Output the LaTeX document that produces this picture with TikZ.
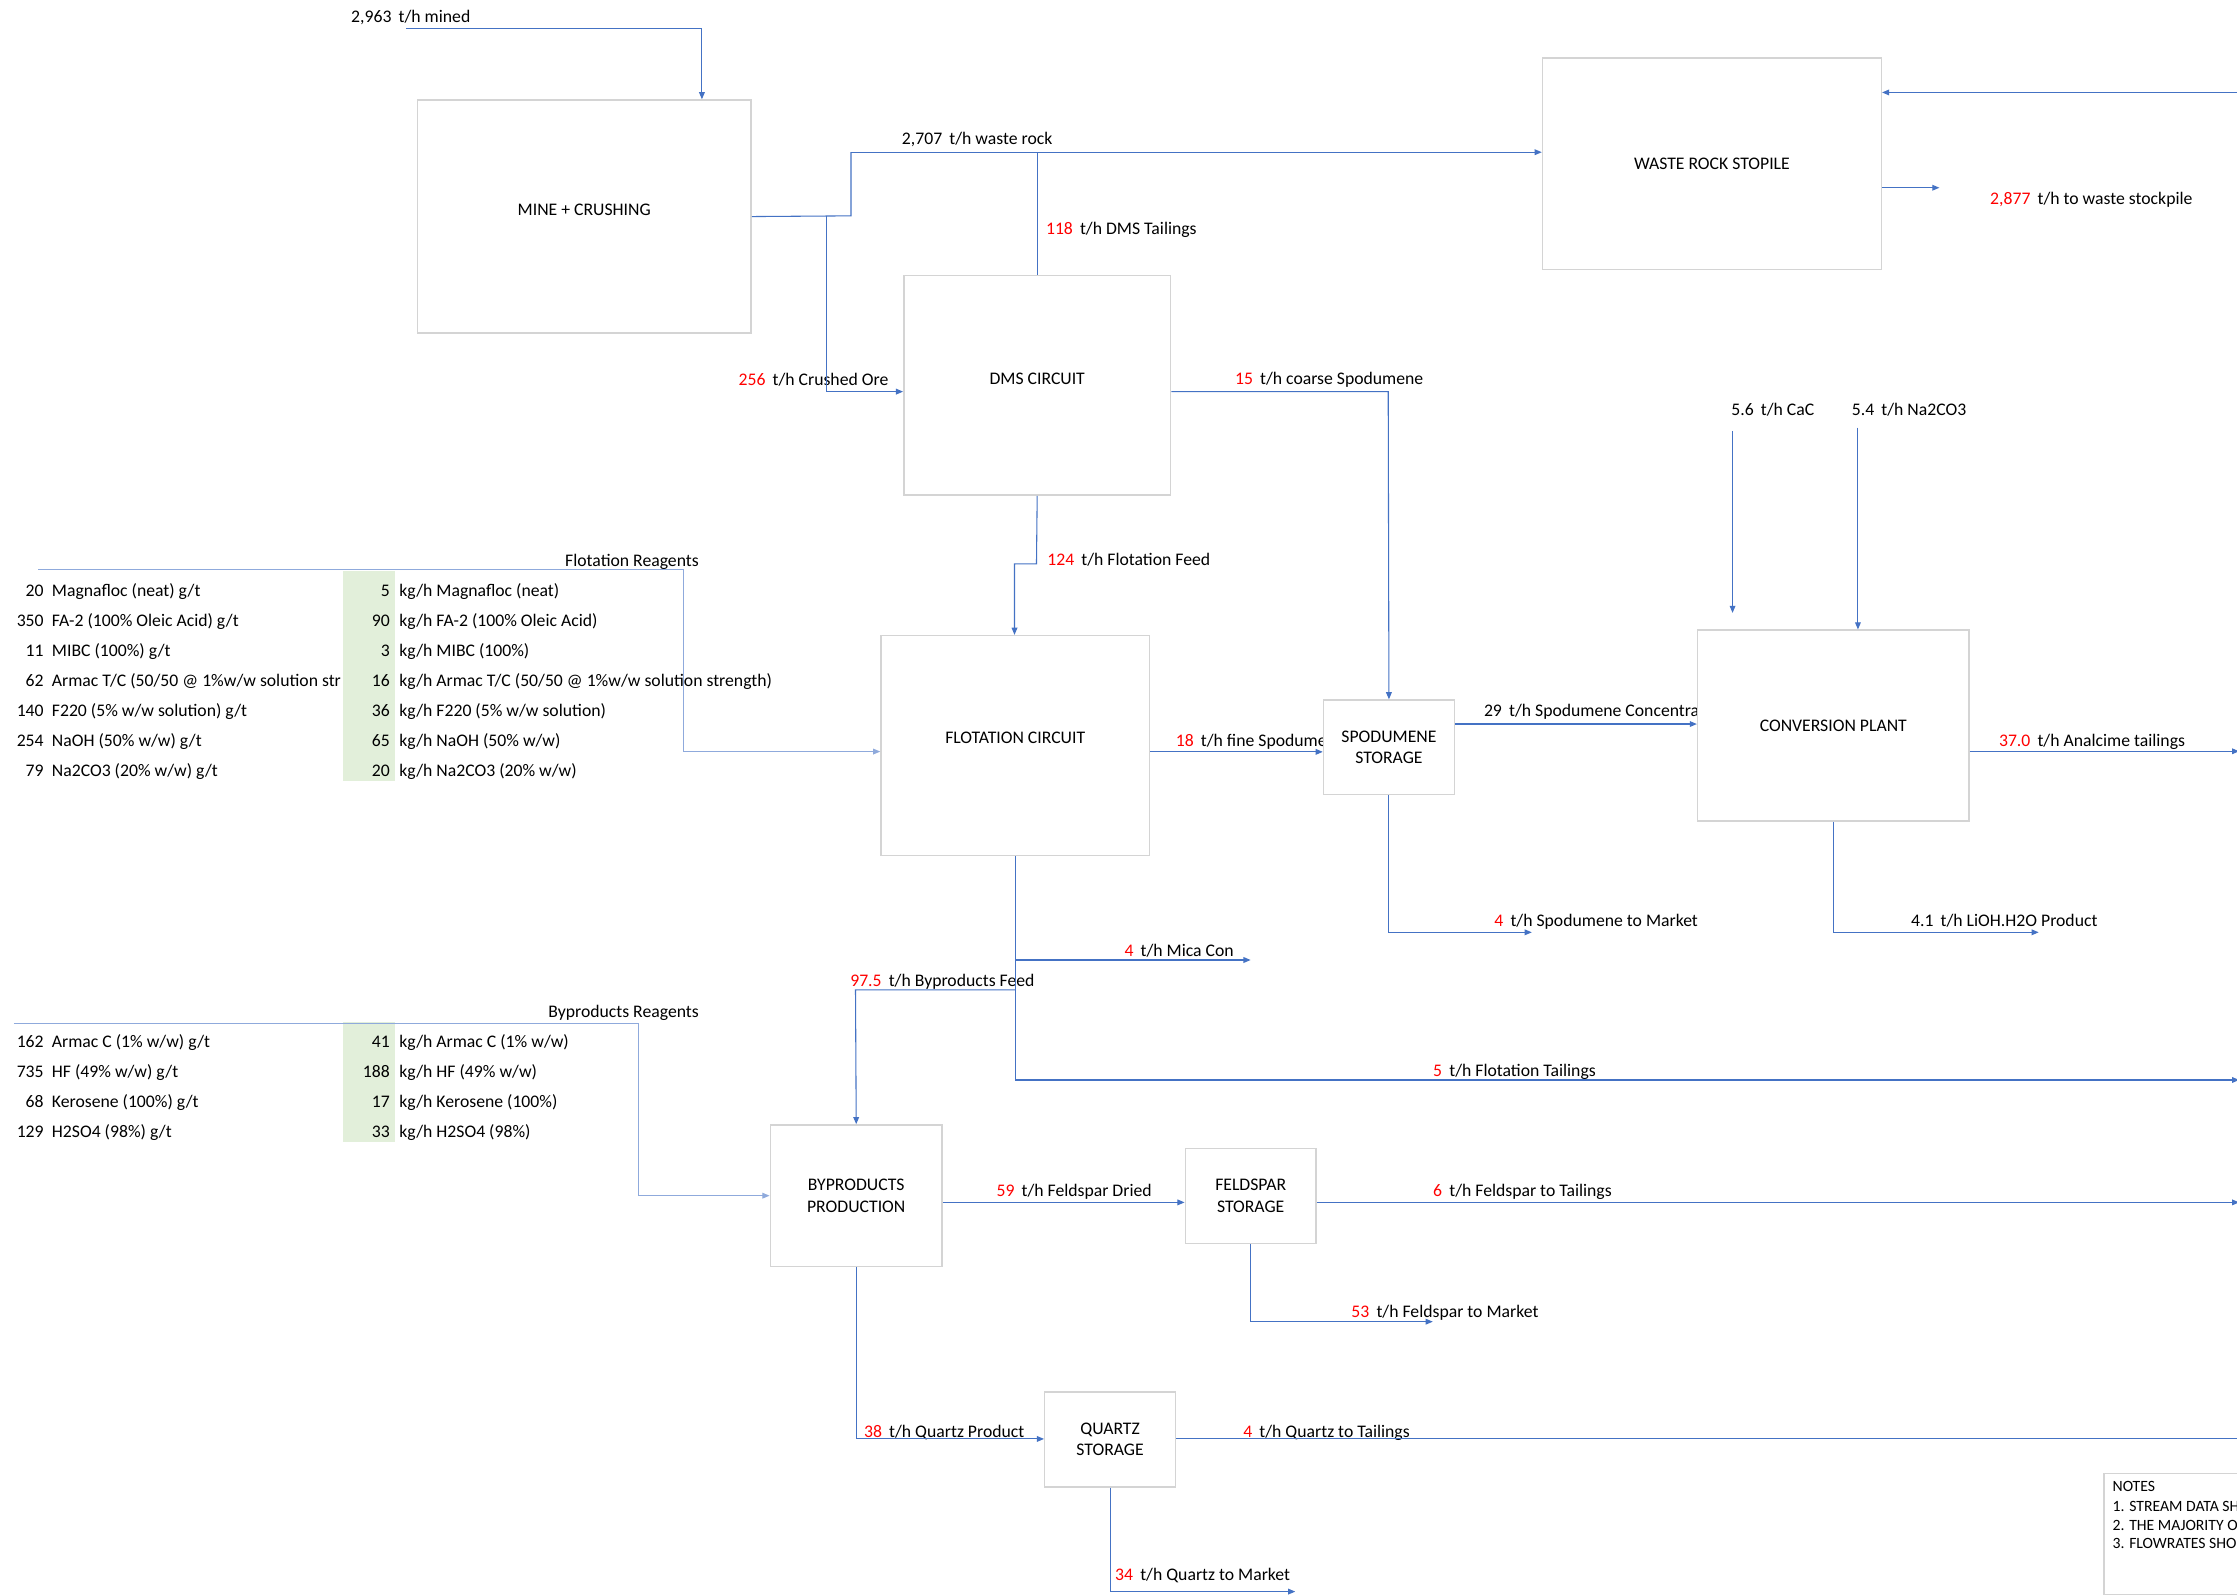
\documentclass[tikz,border=0pt]{standalone}
\usepackage{fontspec}
\setmainfont{Carlito}
\usetikzlibrary{arrows.meta}
\definecolor{flowblue}{HTML}{4472C4}
\definecolor{reagblue}{HTML}{8FAADC}
\definecolor{boxgray}{HTML}{D4D4D4}
\definecolor{numred}{HTML}{FF0000}
\definecolor{cellgreen}{HTML}{E2EFDA}
\newcommand{\RedN}[1]{\textcolor{numred}{#1}\hspace{5pt}}
\newcommand{\BlkN}[1]{#1\hspace{5pt}}
\newcommand{\UpTxt}[2]{\raisebox{#1}[\height][\depth]{#2}}
\begin{document}
\begin{tikzpicture}[x=1pt,y=-1pt,
  font=\fontsize{12.4}{15}\selectfont,
  box/.style={draw=boxgray, line width=1pt, fill=white, inner sep=0pt, align=center, anchor=north west},
  pipe/.style={draw=flowblue, line width=0.75pt},
  arr/.style={pipe, -{Triangle[length=5pt,width=4pt]}},
  reag/.style={draw=reagblue, line width=0.75pt},
  reagarr/.style={reag, -{Triangle[length=5pt,width=4pt]}},
  lbl/.style={anchor=base west, inner sep=0pt},
  lblr/.style={anchor=base east, inner sep=0pt},
  note/.style={anchor=base west, inner sep=0pt, font=\fontsize{11}{13}\selectfont}]
\useasboundingbox (0,0) rectangle (1568,1118);
\fill[white] (0,0) rectangle (1568,1118);
\begin{scope}
\clip (0,0) rectangle (1568,1118);

% ---------- stream labels ----------
\node[lbl] (lmined) at (246,16) {\BlkN{2,963}t/h mined};
\node[lbl] (lwaste) at (632,101) {\BlkN{2,707}t/h waste rock};
\node[lbl] (ldmst) at (733,164.5) {\RedN{118}t/h DMS Tailings};
\node[lbl] (lcrush) at (517.5,270) {\RedN{256}t/h Crushed Ore};
\node[lbl] (lcoarse) at (865.5,269.6) {\RedN{15}t/h coarse Spodumene};
\node[lbl] (lstock) at (1394.8,143.2) {\RedN{2,877}t/h to waste stockpile};
\node[lbl] (lcac) at (1213.4,291) {\BlkN{5.6}t/h CaC};
\node[lbl] (lna) at (1297.8,291) {\BlkN{5.4}t/h Na2CO3};
\node[lbl] (lfeed) at (733.9,396.5) {\RedN{124}t/h Flotation Feed};
\node[lbl] (lconc) at (1040,502) {\BlkN{29}t/h Spodumene Concentra};
\node[lbl] (lfine) at (824,523) {\RedN{18}t/h fine Spodume};
\node[lbl] (lanal) at (1401,523) {\RedN{37.0}t/h Analcime tailings};
\node[lbl] (lspm) at (1047.3,649.2) {\RedN{4}t/h Spodumene to Market};
\node[lbl] (llioh) at (1339.4,649.2) {\BlkN{4.1}t/h LiOH.H2O Product};
\node[lbl] (lmica) at (788,670.5) {\RedN{4}t/h Mica Con};
\node[lbl] (lbyf) at (595.8,691.5) {\RedN{97.5}t/h Byproducts Feed};
\node[lbl] (lftail) at (1004.4,754.6) {\RedN{5}t/h Flotation Tailings};
\node[lbl] (lfdry) at (698.3,839) {\RedN{59}t/h Feldspar Dried};
\node[lbl] (lfdt) at (1004.4,839) {\RedN{6}t/h Feldspar to Tailings};
\node[lbl] (lfdm) at (947.1,923.5) {\RedN{53}t/h Feldspar to Market};
\node[lbl] (lqp) at (605.5,1007.4) {\RedN{38}t/h Quartz Product};
\node[lbl] (lqt) at (871.3,1007.4) {\RedN{4}t/h Quartz to Tailings};
\node[lbl] (lqm) at (781.5,1108) {\RedN{34}t/h Quartz to Market};

% ---------- flotation reagents table ----------
\node[lblr] (flotreag) at (490,397) {Flotation Reagents};
\node[lblr] (fa1) at (30.8,417.9) {20};
\node[lbl]  (fb1) at (36.2,417.9) {Magnafloc (neat) g/t};
\node[lblr] (fa2) at (30.8,438.9) {350};
\node[lbl]  (fb2) at (36.2,438.9) {FA-2 (100\% Oleic Acid) g/t};
\node[lblr] (fa3) at (30.8,460) {11};
\node[lbl]  (fb3) at (36.2,460) {MIBC (100\%) g/t};
\node[lblr] (fa4) at (30.8,481) {62};
\node[lbl]  (fb4) at (36.2,481) {Armac T/C (50/50 @ 1\%w/w solution str};
\node[lblr] (fa5) at (30.8,502) {140};
\node[lbl]  (fb5) at (36.2,502) {F220 (5\% w/w solution) g/t};
\node[lblr] (fa6) at (30.8,523.1) {254};
\node[lbl]  (fb6) at (36.2,523.1) {NaOH (50\% w/w) g/t};
\node[lblr] (fa7) at (30.8,544.1) {79};
\node[lbl]  (fb7) at (36.2,544.1) {Na2CO3 (20\% w/w) g/t};
\fill[cellgreen] (240.6,400) rectangle (276.9,547.2);
\node[lblr] (fc1) at (273.4,417.9) {5};
\node[lbl]  (fd1) at (279.7,417.9) {kg/h Magnafloc (neat)};
\node[lblr] (fc2) at (273.4,438.9) {90};
\node[lbl]  (fd2) at (279.7,438.9) {kg/h FA-2 (100\% Oleic Acid)};
\node[lblr] (fc3) at (273.4,460) {3};
\node[lbl]  (fd3) at (279.7,460) {kg/h MIBC (100\%)};
\node[lblr] (fc4) at (273.4,481) {16};
\node[lbl]  (fd4) at (279.7,481) {kg/h Armac T/C (50/50 @ 1\%w/w solution strength)};
\node[lblr] (fc5) at (273.4,502) {36};
\node[lbl]  (fd5) at (279.7,502) {kg/h F220 (5\% w/w solution)};
\node[lblr] (fc6) at (273.4,523.1) {65};
\node[lbl]  (fd6) at (279.7,523.1) {kg/h NaOH (50\% w/w)};
\node[lblr] (fc7) at (273.4,544.1) {20};
\node[lbl]  (fd7) at (279.7,544.1) {kg/h Na2CO3 (20\% w/w)};

% ---------- byproducts reagents table ----------
\node[lblr] (byreag) at (490,713) {Byproducts Reagents};
\node[lblr] (ba1) at (30.8,734) {162};
\node[lbl]  (bb1) at (36.2,734) {Armac C (1\% w/w) g/t};
\node[lblr] (ba2) at (30.8,755.1) {735};
\node[lbl]  (bb2) at (36.2,755.1) {HF (49\% w/w) g/t};
\node[lblr] (ba3) at (30.8,776.1) {68};
\node[lbl]  (bb3) at (36.2,776.1) {Kerosene (100\%) g/t};
\node[lblr] (ba4) at (30.8,797.1) {129};
\node[lbl]  (bb4) at (36.2,797.1) {H2SO4 (98\%) g/t};
\fill[cellgreen] (240.6,716.1) rectangle (276.9,800.7);
\node[lblr] (bc1) at (273.4,734) {41};
\node[lbl]  (bd1) at (279.7,734) {kg/h Armac C (1\% w/w)};
\node[lblr] (bc2) at (273.4,755.1) {188};
\node[lbl]  (bd2) at (279.7,755.1) {kg/h HF (49\% w/w)};
\node[lblr] (bc3) at (273.4,776.1) {17};
\node[lbl]  (bd3) at (279.7,776.1) {kg/h Kerosene (100\%)};
\node[lblr] (bc4) at (273.4,797.1) {33};
\node[lbl]  (bd4) at (279.7,797.1) {kg/h H2SO4 (98\%)};

% ---------- process boxes ----------
\node[box, minimum width=234pt, minimum height=163.4pt] (mine) at (292,69.6) {\UpTxt{5pt}{MINE + CRUSHING}};
\node[box, minimum width=237.5pt, minimum height=148.4pt] (waste) at (1080.7,40.1) {WASTE ROCK STOPILE};
\node[box, minimum width=187pt, minimum height=154pt] (dms) at (633,192.5) {\UpTxt{4.5pt}{DMS CIRCUIT}};
\node[box, minimum width=188.2pt, minimum height=154pt] (flot) at (617,445) {\UpTxt{5pt}{FLOTATION CIRCUIT}};
\node[box, minimum width=91.7pt, minimum height=66.3pt] (spod) at (927.2,490.2) {SPODUMENE\\STORAGE};
\node[box, minimum width=190.2pt, minimum height=133.8pt] (conv) at (1189.4,441.2) {CONVERSION PLANT};
\node[box, minimum width=120.5pt, minimum height=99.3pt] (byp) at (539.4,788) {BYPRODUCTS\\PRODUCTION};
\node[box, minimum width=91.7pt, minimum height=66.6pt] (feld) at (830.3,804.4) {FELDSPAR\\STORAGE};
\node[box, minimum width=91.6pt, minimum height=66.6pt] (quartz) at (731.8,975.2) {QUARTZ\\STORAGE};
\node[box, minimum width=110pt, minimum height=85.1pt] (notes) at (1474.3,1032.2) {};
\node[note] (n0) at (1480.6,1045.5) {NOTES};
\node[note] (n1) at (1480.6,1059.5) {1. STREAM DATA SH};
\node[note] (n2) at (1480.6,1073) {2. THE MAJORITY O};
\node[note] (n3) at (1480.6,1085.7) {3. FLOWRATES SHO};

% ---------- coordinates ----------
\coordinate (m0) at (284.6,19.9);
\coordinate (m1) at (492,19.9);
\coordinate (j1) at (579.2,151.3);
\coordinate (j2) at (596.5,151.3);
\coordinate (j3) at (596.5,106.7);
\coordinate (j1c) at (579.2,274.5);
\coordinate (c1) at (973.05,274.5);
\coordinate (f1) at (726.5,395.3);
\coordinate (f2) at (711.1,395.3);
\coordinate (r0) at (26.9,399.5);
\coordinate (r1) at (479.2,399.5);
\coordinate (r2) at (479.2,526.8);
\coordinate (fs) at (0,527);
\coordinate (sc) at (0,507.5);
\coordinate (ca0) at (1214.4,302.1);
\coordinate (ca1) at (1214.4,429.6);
\coordinate (na0) at (1302.3,299.8);
\coordinate (an) at (1569.5,526.6);
\coordinate (li) at (1429,653.5);
\coordinate (sm) at (1073.7,653.5);
\coordinate (ft) at (1569.5,757);
\coordinate (mc) at (876.6,672.9);
\coordinate (bf) at (599.65,693.8);
\coordinate (b0) at (9.8,717.3);
\coordinate (b1) at (447.5,717.3);
\coordinate (b2) at (447.5,838.1);
\coordinate (fd) at (0,842.8);
\coordinate (ftl) at (1569.5,842.8);
\coordinate (fm) at (1004.3,926.4);
\coordinate (qp) at (0,1008.6);
\coordinate (qt) at (1568,1008.2);
\coordinate (qm) at (907.9,1115.6);
\coordinate (wo) at (1359.4,131.6);
\coordinate (wr) at (1570,64.8);

% ---------- connectors ----------
\draw[arr] (m0) -- (m1) -- (m1 |- mine.north);
\draw[pipe] (mine.east) -- (j2) -- (j3);
\draw[arr] (j3) -- (j3 -| waste.west);
\draw[arr] (j1) -- (j1c) -- (j1c -| dms.west);
\draw[pipe] (dms.north) -- (dms.north |- j3);
\draw[arr] (c1 -| dms.east) -- (c1) -- (spod.north);
\draw[arr] (dms.south) -- (f1) -- (f2) -- (f2 |- flot.north);
\draw[reagarr] (r0) -- (r1) -- (r2) -- (r2 -| flot.west);
\draw[arr] (fs -| flot.east) -- (fs -| spod.west);
\draw[arr] (sc -| spod.east) -- (sc -| conv.west);
\draw[arr] (ca0) -- (ca1);
\draw[arr] (na0) -- (na0 |- conv.north);
\draw[arr] (an -| conv.east) -- (an);
\draw[arr] (conv.south) -- (conv.south |- li) -- (li);
\draw[arr] (spod.south) -- (spod.south |- sm) -- (sm);
\draw[arr] (flot.south) -- (flot.south |- ft) -- (ft);
\draw[arr] (flot.south |- mc) -- (mc);
\draw[arr] (flot.south |- bf) -- (bf) -- (byp.north);
\draw[reagarr] (b0) -- (b1) -- (b2) -- (b2 -| byp.west);
\draw[arr] (fd -| byp.east) -- (fd -| feld.west);
\draw[arr] (ftl -| feld.east) -- (ftl);
\draw[arr] (feld.south) -- (feld.south |- fm) -- (fm);
\draw[arr] (byp.south) -- (byp.south |- qp) -- (qp -| quartz.west);
\draw[pipe] (qt -| quartz.east) -- (qt);
\draw[arr] (quartz.south) -- (quartz.south |- qm) -- (qm);
\draw[arr] (wo -| waste.east) -- (wo);
\draw[arr] (wr) -- (wr -| waste.east);
\end{scope}
\end{tikzpicture}
\end{document}
